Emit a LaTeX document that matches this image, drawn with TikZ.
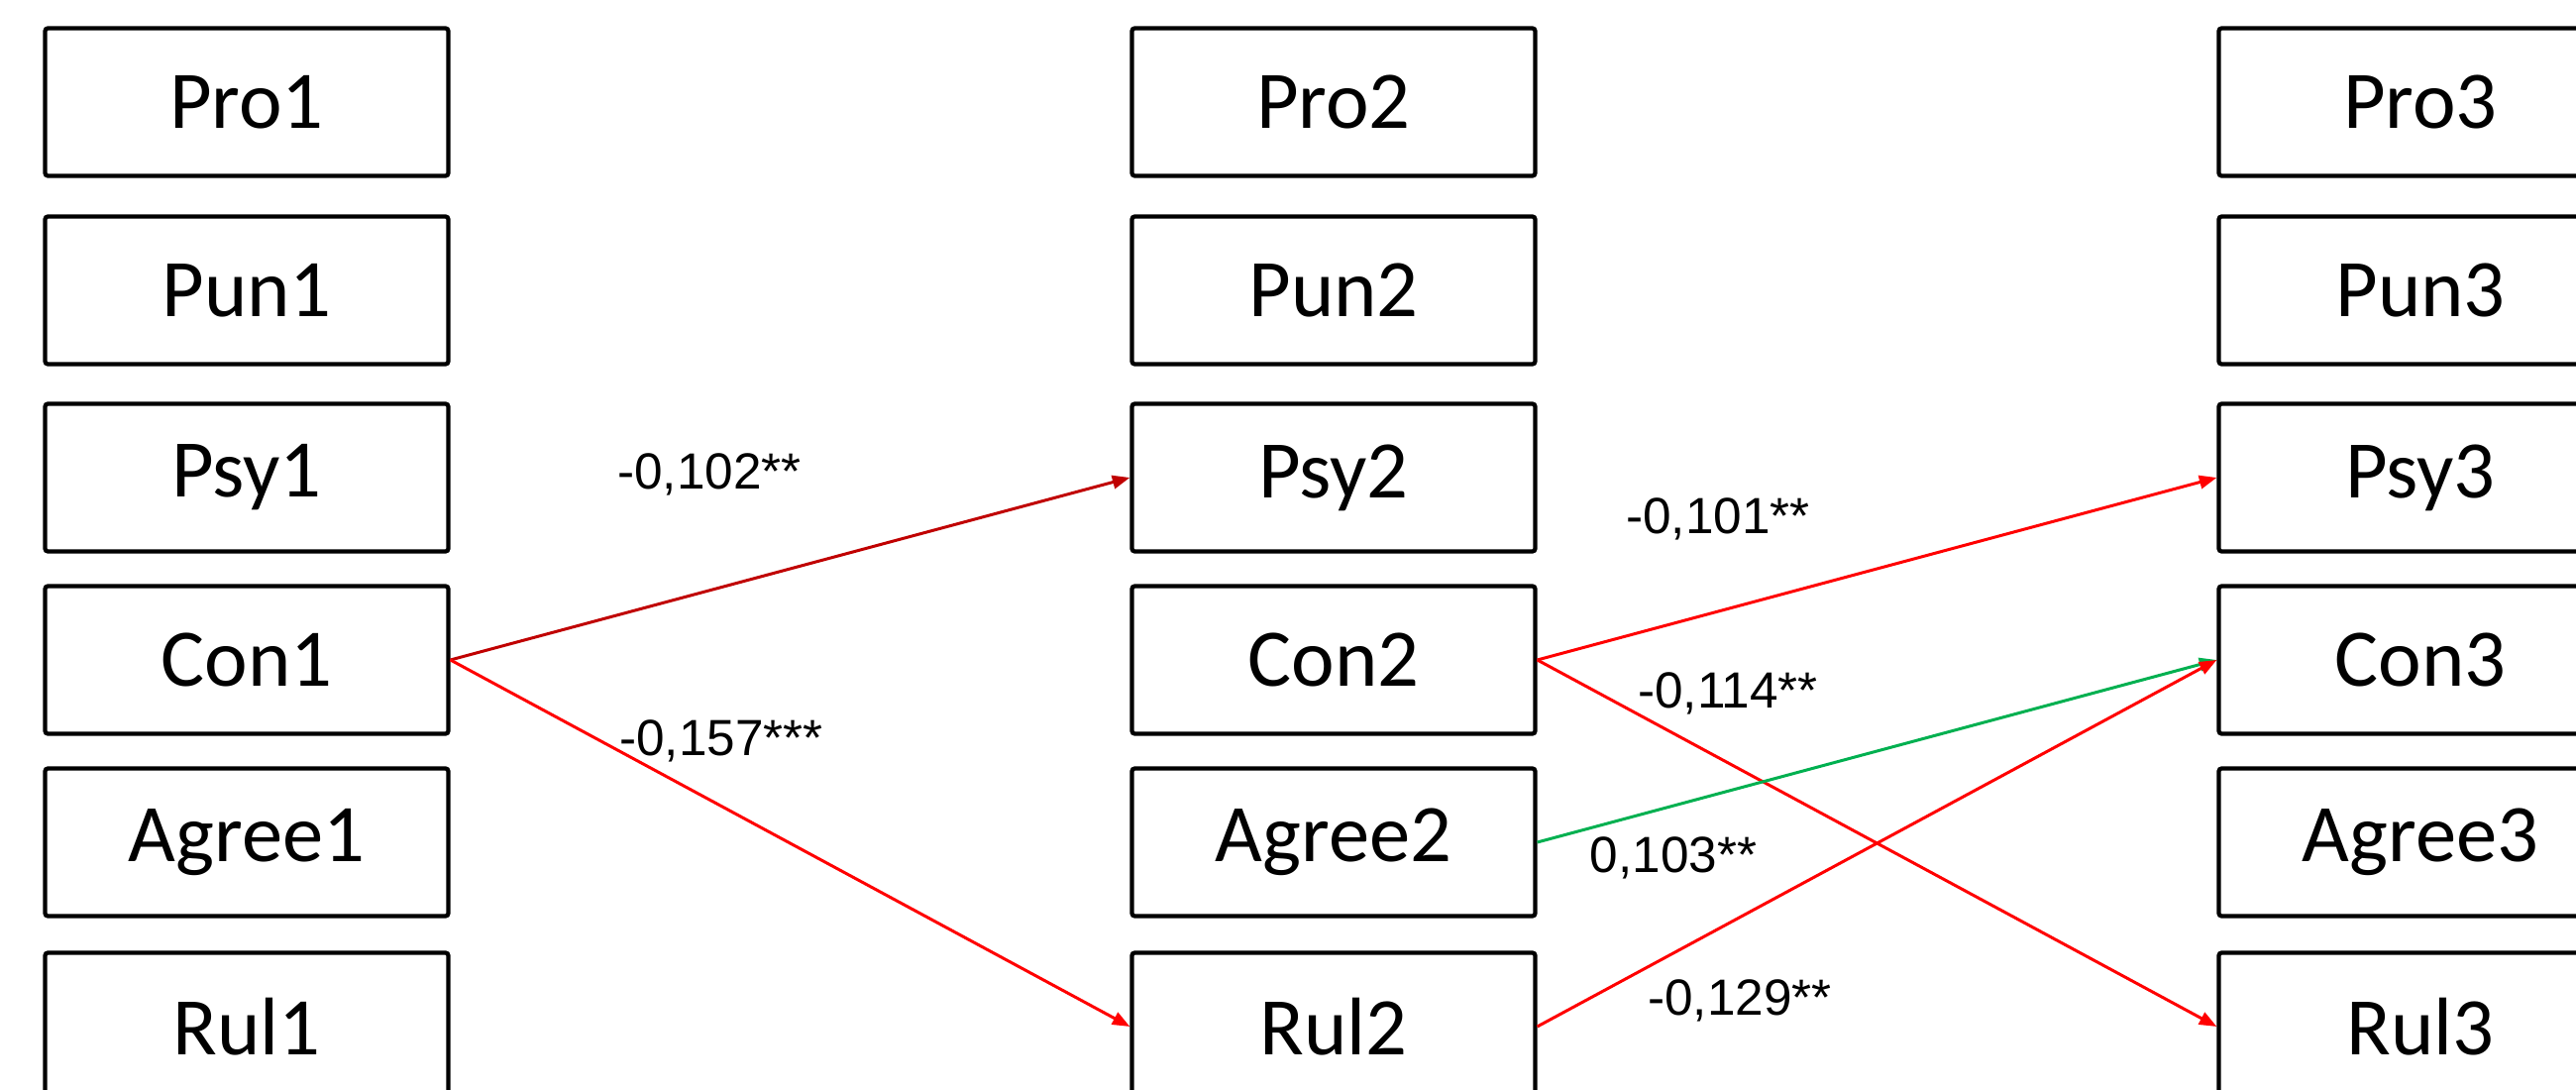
\documentclass[tikz,border=0pt]{standalone}
\usepackage{fontspec}
\setmainfont{Carlito}
\newfontfamily\coeffont{Liberation Sans}
\usetikzlibrary{arrows.meta}

\definecolor{rojo}{HTML}{FF0000}
\definecolor{rojooscuro}{HTML}{C00000}
\definecolor{verde}{HTML}{00B050}

\tikzset{
	caja/.style={draw, line width=1.2pt, rounded corners=0.8pt, minimum width=4.07cm, minimum height=1.49cm, inner sep=0pt, font=\fontsize{23.5}{28}\selectfont},
	coef/.style={inner sep=0pt, font=\coeffont\fontsize{14.6}{17}\selectfont},
	flecha/.style={line width=0.85pt, -{Triangle[length=5pt, width=3.8pt]}}
}

\begin{document}
\begin{tikzpicture}

		\clip (0,0) rectangle (26,11);
		\fill[white] (0,0) rectangle (26,11);

		% Cajas de las tres olas
		\foreach \c/\x in {1/2.49, 2/13.46, 3/24.43}{
			\foreach \v/\y in {Pro/9.97, Pun/8.07, Psy/6.18, Con/4.34, Agree/2.50, Rul/0.64}{
				\node[caja] (\v\c) at (\x,\y) {\v\c};
			}
		}

		% Efectos de la ola 1 a la ola 2
		\draw[flecha, rojooscuro] (Con1.east) -- (Psy2.west);
		\draw[flecha, rojo] (Con1.east) -- (Rul2.west);

		% Efectos de la ola 2 a la ola 3
		\draw[flecha, rojo] (Con2.east) -- (Psy3.west);
		\draw[flecha, rojo] (Con2.east) -- (Rul3.west);
		\draw[flecha, verde] (Agree2.east) -- (Con3.west);
		\draw[flecha, rojo] (Rul2.east) -- (Con3.west);

		% Coeficientes
		\node[coef] (k102) at (7.16, 6.21) {-0,102**};
		\node[coef] (k157) at (7.28, 3.52) {-0,157***};
		\node[coef] (k101) at (17.34, 5.76) {-0,101**};
		\node[coef] (k114) at (17.44, 4.00) {-0,114**};
		\node[coef] (k103) at (16.89, 2.34) {0,103**};
		\node[coef] (k129) at (17.56, 0.90) {-0,129**};

	\end{tikzpicture}
\end{document}
